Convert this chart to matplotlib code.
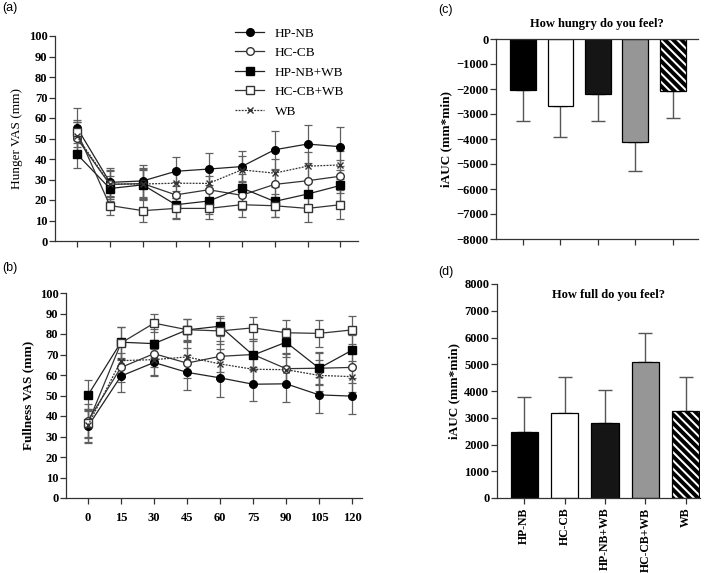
import matplotlib
matplotlib.use("Agg")
import matplotlib.pyplot as plt
import numpy as np

SERIF = ['Liberation Serif', 'DejaVu Serif']
SANS = ['Liberation Sans', 'DejaVu Sans']
plt.rcParams['hatch.linewidth'] = 2.8
plt.rcParams['font.family'] = SERIF
plt.rcParams['font.weight'] = 'bold'

times = [0, 15, 30, 45, 60, 75, 90, 105, 120]
groups = ['HP-NB', 'HC-CB', 'HP-NB+WB', 'HC-CB+WB', 'WB']

hunger_hpnb = [55.3, 28.6, 29.3, 34.0, 35.1, 36.3, 44.5, 47.3, 46.0]
hunger_hccb = [50.1, 27.6, 28.0, 22.5, 25.0, 22.3, 27.6, 29.4, 31.6]
hunger_hpnbwb = [42.4, 25.6, 27.4, 17.7, 19.5, 25.9, 19.3, 22.9, 27.1]
hunger_hccbwb = [53.3, 17.3, 14.8, 15.9, 15.9, 17.7, 17.2, 15.9, 17.7]
hunger_wb = [51.0, 27.8, 27.8, 28.2, 28.1, 34.7, 33.1, 36.5, 37.1]
hunger_err_hpnb = [9.5, 7.0, 8.0, 7.2, 8.0, 7.5, 9.4, 9.3, 9.5]
hunger_err_hccb = [8.0, 7.0, 7.5, 6.5, 6.5, 7.0, 7.0, 7.5, 8.0]
hunger_err_hpnbwb = [7.0, 6.0, 7.5, 6.5, 6.5, 7.0, 7.5, 7.0, 7.5]
hunger_err_hccbwb = [5.5, 4.8, 5.5, 5.0, 5.0, 6.0, 5.5, 6.5, 7.0]
hunger_err_wb = [7.0, 6.5, 7.0, 7.0, 7.0, 7.0, 7.0, 7.0, 7.0]

full_hpnb = [35.0, 59.5, 66.1, 61.3, 58.6, 55.5, 55.7, 50.3, 49.7]
full_hccb = [37.8, 63.7, 70.4, 65.8, 69.1, 70.0, 63.1, 63.3, 63.7]
full_hpnbwb = [50.2, 76.0, 75.3, 82.0, 83.8, 69.7, 76.0, 63.3, 72.1]
full_hccbwb = [36.5, 75.6, 85.3, 82.1, 81.5, 83.0, 80.6, 80.3, 82.0]
full_wb = [35.5, 67.0, 67.5, 68.8, 65.4, 62.8, 62.6, 59.8, 59.2]
full_err_hpnb = [8.0, 7.8, 6.5, 8.5, 9.3, 8.3, 8.8, 8.6, 8.9]
full_err_hccb = [8.0, 7.0, 6.5, 7.5, 7.5, 7.5, 7.5, 7.5, 7.5]
full_err_hpnbwb = [7.6, 7.5, 7.0, 5.5, 4.9, 7.0, 7.0, 8.0, 7.5]
full_err_hccbwb = [7.0, 7.8, 4.5, 5.0, 6.5, 5.3, 6.3, 6.5, 6.8]
full_err_wb = [8.0, 7.5, 7.5, 7.5, 7.5, 7.5, 7.5, 7.5, 7.5]

hunger_iauc = [-2050, -2680, -2200, -4130, -2090]
hunger_iauc_err = [1230, 1220, 1080, 1150, 1070]
full_iauc = [2480, 3180, 2790, 5070, 3260]
full_iauc_err = [1300, 1330, 1230, 1100, 1260]

styles = [
    dict(marker='o', mfc='black', mec='black', ls='-', color='#222222', ms=5.5),
    dict(marker='o', mfc='white', mec='#333333', ls='-', color='#333333', ms=5.5),
    dict(marker='s', mfc='black', mec='black', ls='-', color='#222222', ms=5.5),
    dict(marker='s', mfc='white', mec='#333333', ls='-', color='#333333', ms=5.5),
    dict(marker='x', mfc='none', mec='#333333', ls=(0, (1.5, 1)), color='#333333', ms=4.5),
]
bar_face = ['#000000', '#ffffff', '#151515', '#969696', '#ffffff']
bar_hatch = [None, None, None, None, '\\\\\\\\']

W, H = 714, 573
fig = plt.figure(figsize=(W / 100, H / 100), dpi=100)


def px_axes(l, t, r, b):
    return fig.add_axes([l / W, 1 - b / H, (r - l) / W, (b - t) / H])


def style_axes(ax):
    for s in ['top', 'right']:
        ax.spines[s].set_visible(False)
    for s in ['left', 'bottom']:
        ax.spines[s].set_linewidth(0.9)
        ax.spines[s].set_color('#333333')
    ax.tick_params(direction='out', length=4, width=0.9, color='#333333',
                   labelsize=9, pad=1.5)


def line_panel(ax, series, errs):
    for k, (y, e) in enumerate(zip(series, errs)):
        ax.errorbar(times, y, yerr=e, fmt='none', ecolor='#606060', elinewidth=0.9,
                    capsize=3, capthick=0.9, zorder=2)
    for k, y in enumerate(series):
        st = styles[k]
        ax.plot(times, y, linestyle=st['ls'], color=st['color'], lw=0.9,
                marker=st['marker'], mfc=st['mfc'], mec=st['mec'], ms=st['ms'],
                mew=1.0, label=groups[k], zorder=3 + k * 0.1)
    ax.set_ylim(0, 100)
    ax.set_yticks(np.arange(0, 101, 10))
    ax.set_xticks(times)


# (a)
axa = px_axes(55, 36, 358, 241)
line_panel(axa, [hunger_hpnb, hunger_hccb, hunger_hpnbwb, hunger_hccbwb, hunger_wb],
           [hunger_err_hpnb, hunger_err_hccb, hunger_err_hpnbwb, hunger_err_hccbwb, hunger_err_wb])
axa.set_xlim(-10, 128)
axa.set_xticklabels([])
style_axes(axa)
axa.set_ylabel('Hunger VAS (mm)', fontsize=9.5, fontweight='normal', labelpad=4)
leg = axa.legend(loc='upper left', bbox_to_anchor=(0.555, 1.1), frameon=False,
                 prop={'family': SERIF, 'size': 9.5, 'weight': 'normal'}, handlelength=2.2,
                 labelspacing=0.55, handletextpad=0.8)

# (b)
axb = px_axes(66, 293, 362, 498)
line_panel(axb, [full_hpnb, full_hccb, full_hpnbwb, full_hccbwb, full_wb],
           [full_err_hpnb, full_err_hccb, full_err_hpnbwb, full_err_hccbwb, full_err_wb])
axb.set_xlim(-10, 124.5)
axb.set_xticklabels([str(t) for t in times])
style_axes(axb)
axb.tick_params(axis='x', pad=6)
axb.set_ylabel('Fullness VAS (mm)', fontsize=9.5, fontweight='bold', labelpad=4)

xpos = np.arange(len(groups))


def bar_panel(ax, vals, errs, width, lower):
    for i in range(len(groups)):
        ax.bar(xpos[i], vals[i], width=width, color=bar_face[i], edgecolor='black',
               linewidth=0.9, hatch=bar_hatch[i], zorder=2)
    if lower:
        yerr = [errs, [0] * len(errs)]
    else:
        yerr = [[0] * len(errs), errs]
    ax.errorbar(xpos, vals, yerr=yerr, fmt='none', ecolor='#555555', elinewidth=1.0,
                capsize=5, capthick=1.0, zorder=1)
    ax.set_xticks(xpos)


# (c)
axc = px_axes(496, 39, 698, 239)
bar_panel(axc, hunger_iauc, hunger_iauc_err, 0.69, True)
axc.set_xlim(-0.72, 4.67)
axc.set_ylim(-8000, 0)
axc.set_yticks(np.arange(-8000, 1, 1000))
axc.set_xticklabels([])
style_axes(axc)
axc.spines['top'].set_visible(True)
axc.spines['top'].set_linewidth(0.9)
axc.spines['top'].set_color('#333333')
axc.set_ylabel('iAUC (mm*min)', fontsize=9.5, fontweight='bold', labelpad=3)
axc.set_title('How hungry do you feel?', fontsize=9, fontweight='bold', pad=9)

# (d)
axd = px_axes(497, 284, 700, 498)
bar_panel(axd, full_iauc, full_iauc_err, 0.67, False)
axd.set_xlim(-0.67, 4.35)
axd.set_ylim(0, 8000)
axd.set_yticks(np.arange(0, 8001, 1000))
axd.set_xticklabels(groups, rotation=90)
style_axes(axd)
axd.tick_params(axis='x', pad=3, labelsize=8.5)
axd.set_ylabel('iAUC (mm*min)', fontsize=9.5, fontweight='bold', labelpad=3)
axd.text(0.55, 0.95, 'How full do you feel?', transform=axd.transAxes, ha='center',
         va='center', fontsize=9, fontweight='bold')

for lab, x, y in [('(a)', 2, 8), ('(b)', 2, 268), ('(c)', 438, 10), ('(d)', 438, 272)]:
    fig.text(x / W, 1 - y / H, lab, family=SANS, fontweight='normal', fontsize=9,
             ha='left', va='center')

fig.savefig('out.png', dpi=100)
